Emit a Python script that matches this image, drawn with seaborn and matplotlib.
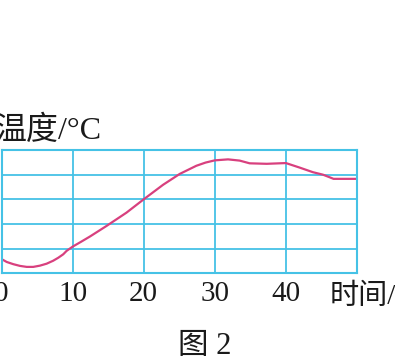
import matplotlib
matplotlib.use("Agg")
import matplotlib.pyplot as plt
import seaborn as sns
import pandas as pd

# Data (time in min, temperature in grid units)
time_min = [0.05, 0.73, 1.66, 2.6, 3.54, 4.47, 5.4, 6.35, 7.27, 7.98, 8.68, 9.16,
            10.0, 11.2, 12.43, 14.77, 17.58, 20.0, 22.73, 25.07, 27.4, 28.7,
            30.0, 31.86, 33.5, 34.9, 37.3, 40.0, 41.9, 43.8, 45.2, 46.1, 46.7, 50.0]
temperature = [0.57, 0.46, 0.37, 0.30, 0.26, 0.26, 0.31, 0.39, 0.51, 0.63, 0.77, 0.91,
               1.08, 1.28, 1.49, 1.92, 2.46, 3.0, 3.59, 4.03, 4.36, 4.49,
               4.58, 4.62, 4.57, 4.46, 4.44, 4.47, 4.29, 4.10, 4.0, 3.90, 3.83, 3.83]
x_ticks = [0, 10, 20, 30, 40, 50]
x_tick_labels = ["0", "10", "20", "30", "40", ""]
y_ticks = [0, 1, 2, 3, 4, 5]
y_label = "温度/°C"
x_label = "时间/min"
caption = "图 2"

sns.set_theme(style="white")
plt.rcParams["font.family"] = ["Liberation Serif", "Noto Sans CJK SC", "DejaVu Sans"]

grid_color = "#45c2e6"
line_color = "#d8407e"
text_color = "#1a1a1a"

fig = plt.figure(figsize=(3.95, 3.58), dpi=100)
ax = fig.add_axes([1.5 / 395, (358 - 273.3) / 358, (357 - 1.5) / 395, 123.3 / 358])

df = pd.DataFrame({"time": time_min, "temp": temperature})
sns.lineplot(data=df, x="time", y="temp", ax=ax, color=line_color, linewidth=1.6)

ax.set_xlim(0, 50)
ax.set_ylim(0, 5)
ax.set_xticks(x_ticks)
ax.set_xticklabels(x_tick_labels)
ax.set_yticks(y_ticks)
ax.set_yticklabels([])
ax.tick_params(axis="both", length=0, labelsize=21, colors=text_color, pad=5.5)
ax.tick_params(axis="y", labelleft=False)
ax.grid(True, color=grid_color, linewidth=1.3)
ax.set_axisbelow(True)
for sp in ax.spines.values():
    sp.set_color(grid_color)
    sp.set_linewidth(1.5)
ax.set_xlabel("")
ax.set_ylabel("")

fig.text(-0.012, (358 - 139) / 358, y_label, fontsize=23, color=text_color,
         ha="left", va="baseline")
fig.text(330 / 395, (358 - 304) / 358, x_label, fontsize=21, color=text_color,
         ha="left", va="baseline")
fig.text(205 / 395, (358 - 354) / 358, caption, fontsize=22, color=text_color,
         ha="center", va="baseline")

fig.savefig("out.png", dpi=100, facecolor="white")
